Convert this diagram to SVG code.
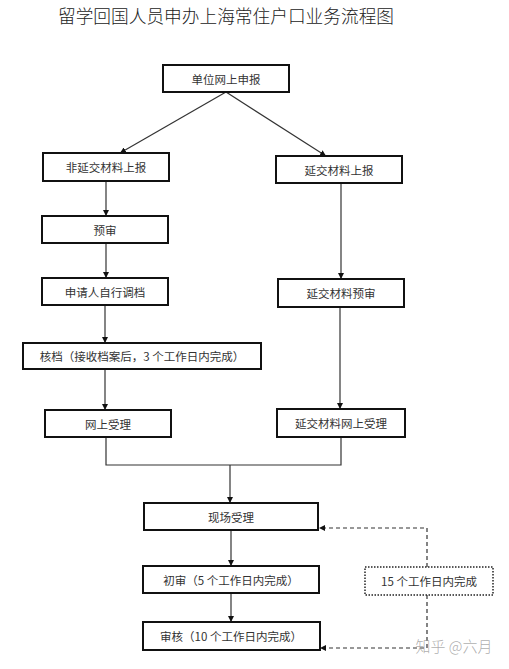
<svg xmlns="http://www.w3.org/2000/svg" width="509" height="669" viewBox="0 0 509 669">
<style>
.box{fill:#fff;stroke:#111;stroke-width:2}
.dot{fill:#fff;stroke:#222;stroke-width:1.5;stroke-dasharray:1.5 1.5}
.t{font-family:"Noto Sans CJK SC","Liberation Sans",sans-serif;font-size:11.5px;fill:#333;text-anchor:middle;dominant-baseline:central}
.ln{fill:none;stroke:#333;stroke-width:1.2}
.ds{fill:none;stroke:#333;stroke-width:1.2;stroke-dasharray:4 3}
</style>
<defs>
<marker id="a" viewBox="0 0 10 10" refX="10" refY="5" markerWidth="6" markerHeight="6" orient="auto" markerUnits="userSpaceOnUse"><path d="M0,0L10,5L0,10z" fill="#111"/></marker>
</defs>
<rect width="509" height="669" fill="#fff"/>
<text x="226" y="15" font-family="'Noto Sans CJK SC',sans-serif" font-size="17.7" fill="#222" text-anchor="middle" dominant-baseline="central" font-weight="300">留学回国人员申办上海常住户口业务流程图</text>
<g id="connectors">
<path class="ln" d="M226,92L120,153" marker-end="url(#a)"/>
<path class="ln" d="M226,92L326,156" marker-end="url(#a)"/>
<path class="ln" d="M106,181V216" marker-end="url(#a)"/>
<path class="ln" d="M106,243V278" marker-end="url(#a)"/>
<path class="ln" d="M105,305V343" marker-end="url(#a)"/>
<path class="ln" d="M105,369V410" marker-end="url(#a)"/>
<path class="ln" d="M341,183V279" marker-end="url(#a)"/>
<path class="ln" d="M340,307V409" marker-end="url(#a)"/>
<path class="ln" d="M106,437V465H341V437"/>
<path class="ln" d="M230,465V503" marker-end="url(#a)"/>
<path class="ln" d="M231,530V566" marker-end="url(#a)"/>
<path class="ln" d="M231,593V622" marker-end="url(#a)"/>
<path class="ds" d="M427,567V528H319" marker-end="url(#a)"/>
<path class="ds" d="M427,595V648H320" marker-end="url(#a)"/>
</g>
<g id="n1"><rect class="box" x="163" y="65" width="126" height="27"/><text class="t" x="226" y="78.5">单位网上申报</text></g>
<g id="n2"><rect class="box" x="43" y="153" width="126" height="28"/><text class="t" x="106" y="167">非延交材料上报</text></g>
<g id="n3"><rect class="box" x="276" y="156" width="126" height="27"/><text class="t" x="339" y="169.5">延交材料上报</text></g>
<g id="n4"><rect class="box" x="42" y="216" width="126" height="27"/><text class="t" x="105" y="229.5">预审</text></g>
<g id="n5"><rect class="box" x="42" y="278" width="126" height="27"/><text class="t" x="105" y="291.5">申请人自行调档</text></g>
<g id="n6"><rect class="box" x="278" y="279" width="126" height="28"/><text class="t" x="341" y="293">延交材料预审</text></g>
<g id="n7"><rect class="box" x="23" y="343" width="238" height="26"/><text class="t" x="142" y="356">核档（接收档案后，3 个工作日内完成）</text></g>
<g id="n8"><rect class="box" x="45" y="410" width="126" height="27"/><text class="t" x="108" y="423.5">网上受理</text></g>
<g id="n9"><rect class="box" x="277" y="409" width="128" height="28"/><text class="t" x="341" y="423">延交材料网上受理</text></g>
<g id="n10"><rect class="box" x="144" y="503" width="174" height="27"/><text class="t" x="231" y="516.5">现场受理</text></g>
<g id="n11"><rect class="box" x="143" y="566" width="176" height="27"/><text class="t" x="231" y="579.5">初审（5 个工作日内完成）</text></g>
<g id="n12"><rect class="box" x="143" y="622" width="177" height="28"/><text class="t" x="231" y="636">审核（10 个工作日内完成）</text></g>
<g id="n13"><rect class="dot" x="365" y="567" width="128" height="28"/><text class="t" x="429" y="581">15 个工作日内完成</text></g>
<text x="454" y="645" font-family="'Noto Sans CJK SC',sans-serif" font-size="15" fill="#999" fill-opacity="0.8" text-anchor="middle" dominant-baseline="central" font-weight="300">知乎 @六月</text>
</svg>
